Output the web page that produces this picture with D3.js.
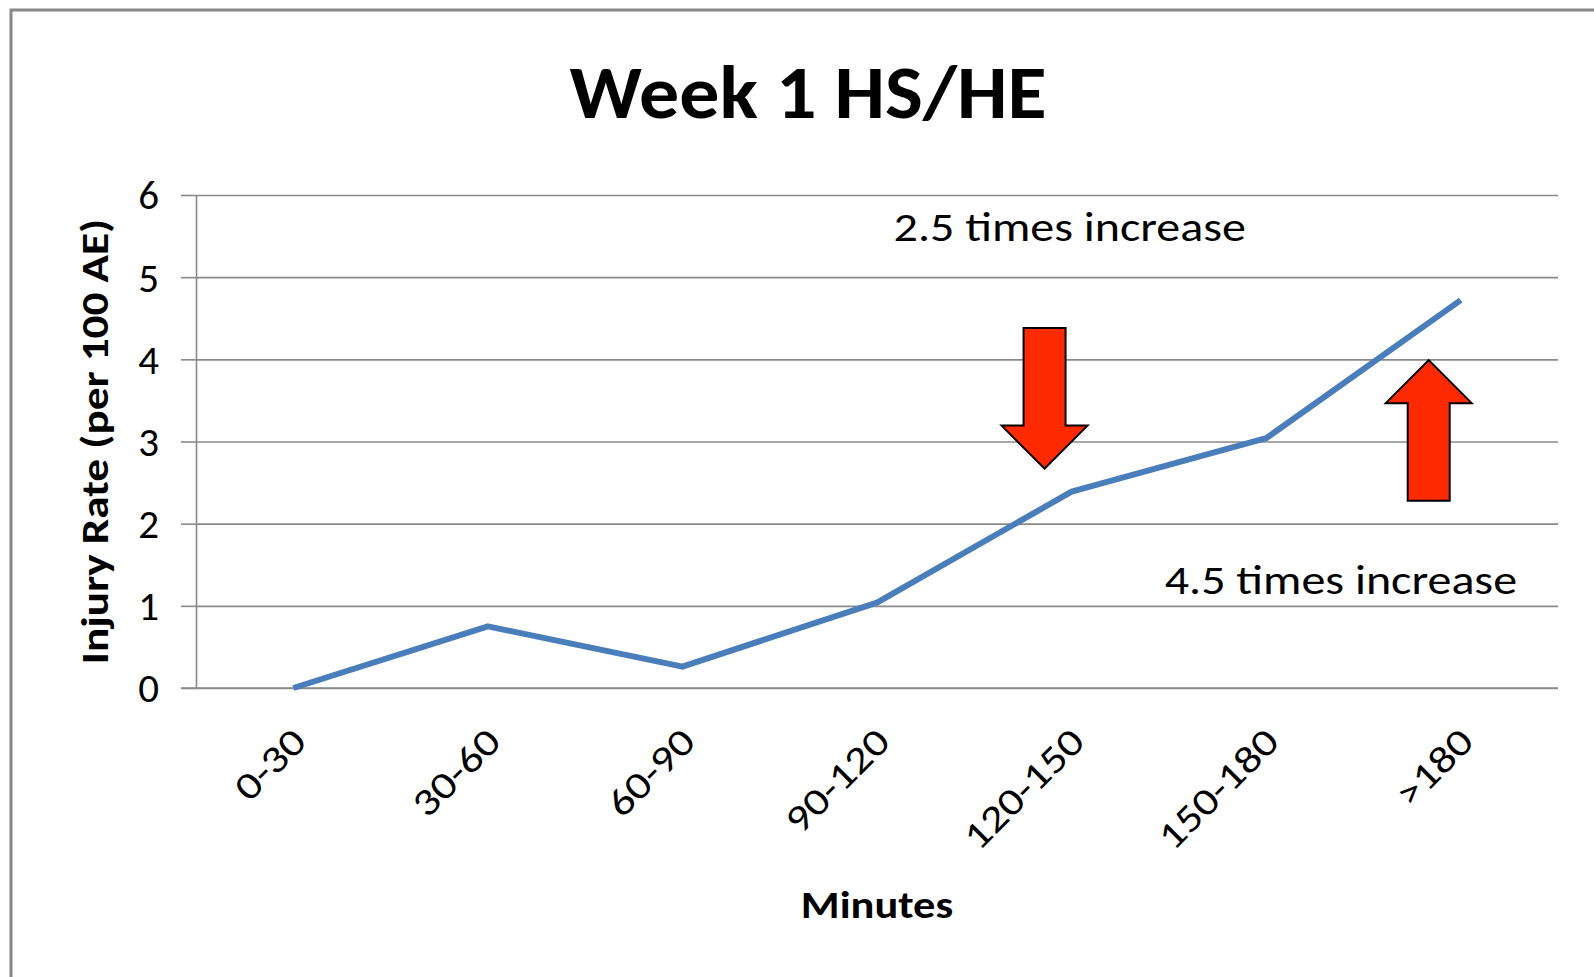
<!DOCTYPE html>
<html>
<head>
<meta charset="utf-8">
<script src="https://cdnjs.cloudflare.com/ajax/libs/d3/7.8.5/d3.min.js"></script>
<style>
  html, body { margin: 0; padding: 0; background: #fff; }
  svg text { font-family: Carlito, Calibri, Lato, "Open Sans", sans-serif; fill: #000; }
</style>
</head>
<body>
<svg id="chart" width="1594" height="977"></svg>
<script>
// chart data
var categories = ["0-30", "30-60", "60-90", "90-120", "120-150", "150-180", ">180"];
var injuryRate = [0, 0.75, 0.26, 1.04, 2.39, 3.04, 4.72];
var yTicks = [0, 1, 2, 3, 4, 5, 6];

// annotations (text positions in data units)
var noteTexts = ["2.5 times increase", "4.5 times increase"];
var noteCats = ["120-150", ">180"];
var noteY = [5.44, 1.15];

// block arrows: from (tail) -> to (tip), in data units
var arrowCats = ["120-150", ">180"];
var arrowFrom = [4.38, 2.28];
var arrowTo = [2.67, 3.99];

var W = 1594, H = 977;
var margin = {top: 195, right: 36, bottom: 289, left: 196};
var width = W - margin.left - margin.right;
var height = H - margin.top - margin.bottom;

var svg = d3.select("#chart");

// outer frame (left and top edge only)
svg.append("path")
  .attr("d", "M11," + H + "V10H" + W)
  .attr("fill", "none")
  .attr("stroke", "#888")
  .attr("stroke-width", 3);

// title
svg.append("text")
  .attr("transform", "translate(808,118) scale(1.08,1)")
  .attr("text-anchor", "middle")
  .style("font-size", "74px").style("font-weight", "bold")
  .text("Week 1 HS/HE");

var plot = svg.append("g").attr("transform", "translate(" + margin.left + "," + margin.top + ")");

var x = d3.scalePoint().domain(categories).range([0, width]).padding(0.5);
var y = d3.scaleLinear().domain([0, 6]).range([height, 0]);

// gridlines
plot.append("g")
  .attr("class", "grid")
  .call(d3.axisLeft(y).tickValues(yTicks).tickSize(-width).tickFormat(""))
  .call(function(g) { g.select(".domain").remove(); })
  .selectAll("line").attr("stroke", "#8a8a8a").attr("stroke-width", 1.6);

// y axis
var yAxis = plot.append("g")
  .call(d3.axisLeft(y).tickValues(yTicks).tickFormat(d3.format("d")).tickSize(15).tickSizeOuter(0).tickPadding(22));
yAxis.select(".domain").attr("stroke", "#8a8a8a").attr("stroke-width", 1.6);
yAxis.selectAll(".tick line").attr("stroke", "#8a8a8a").attr("stroke-width", 1.6);
yAxis.selectAll("text")
  .style("font-size", "41px")
  .style("font-family", "Carlito, Calibri, Lato, sans-serif")
  .attr("fill", "#000")
  .attr("dy", "0.34em");

// x axis line
plot.append("line")
  .attr("x1", -15).attr("x2", width)
  .attr("y1", height).attr("y2", height)
  .attr("stroke", "#8a8a8a").attr("stroke-width", 1.6);

// x tick labels, rotated
plot.selectAll(".xlab")
  .data(categories)
  .enter().append("text")
  .attr("class", "xlab")
  .attr("text-anchor", "end")
  .attr("transform", function(d) { return "translate(" + (x(d) + 15) + "," + (height + 56) + ") rotate(-45) scale(1.2,1)"; })
  .style("font-size", "38px")
  .text(function(d) { return d; });

// axis titles
svg.append("text")
  .attr("transform", "translate(108," + (margin.top + height / 2) + ") rotate(-90) scale(1.19,1)")
  .attr("text-anchor", "middle")
  .style("font-size", "38px").style("font-weight", "bold")
  .text("Injury Rate (per 100 AE)");

svg.append("text")
  .attr("transform", "translate(" + (margin.left + x("90-120")) + ",918) scale(1.17,1)")
  .attr("text-anchor", "middle")
  .style("font-size", "38px").style("font-weight", "bold")
  .text("Minutes");

// series line
plot.append("path")
  .datum(injuryRate)
  .attr("fill", "none")
  .attr("stroke", "#4a7ebb")
  .attr("stroke-width", 6)
  .attr("stroke-linejoin", "round")
  .attr("d", d3.line()
    .x(function(d, i) { return x(categories[i]); })
    .y(function(d) { return y(d); }));

// annotation texts
var noteOffset = [-178, -296];
plot.selectAll(".note")
  .data(noteTexts)
  .enter().append("text")
  .attr("class", "note")
  .attr("transform", function(d, i) { return "translate(" + (x(noteCats[i]) + noteOffset[i]) + "," + y(noteY[i]) + ") scale(1.2,1)"; })
  .style("font-size", "40px")
  .text(function(d) { return d; });

// block arrows
var shaftW = 42, headW = 86, headL = 43;
function arrowPath(cx, y0, y1) {
  var dir = y1 > y0 ? 1 : -1;
  var yb = y1 - dir * headL;
  return "M" + (cx - shaftW / 2) + "," + y0 +
    "V" + yb + "H" + (cx - headW / 2) +
    "L" + cx + "," + y1 +
    "L" + (cx + headW / 2) + "," + yb +
    "H" + (cx + shaftW / 2) + "V" + y0 + "Z";
}
var arrowOffset = [-27, -32];
plot.selectAll(".arrow")
  .data(arrowCats)
  .enter().append("path")
  .attr("class", "arrow")
  .attr("d", function(d, i) { return arrowPath(x(d) + arrowOffset[i], y(arrowFrom[i]), y(arrowTo[i])); })
  .attr("fill", "#ff2a00")
  .attr("stroke", "#000")
  .attr("stroke-width", 2);
</script>
</body>
</html>
